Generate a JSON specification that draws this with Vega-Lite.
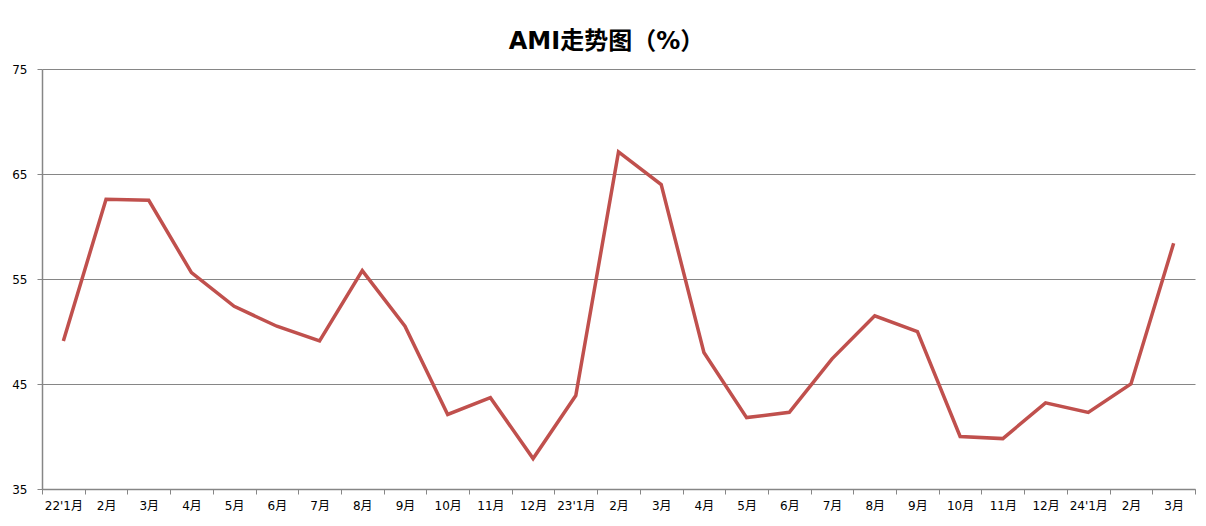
{
  "$schema": "https://vega.github.io/schema/vega-lite/v6.json",
  "width": 1153,
  "height": 420,
  "autosize": {"type": "none"},
  "padding": {"left": 42, "top": 69, "right": 11, "bottom": 37},
  "background": "white",
  "title": {
    "text": "AMI走势图（%）",
    "font": "DejaVu Sans, Noto Sans CJK SC",
    "fontSize": 24,
    "fontWeight": "bold",
    "color": "#000000",
    "anchor": "middle",
    "dx": -12,
    "offset": 9
  },
  "config": {
    "view": {"stroke": null},
    "font": "DejaVu Sans, Noto Sans CJK SC"
  },
  "data": {
    "values": [
      {"m": "22'1月", "v": 49.1},
      {"m": "22'2月", "v": 62.6},
      {"m": "22'3月", "v": 62.5},
      {"m": "22'4月", "v": 55.6},
      {"m": "22'5月", "v": 52.4},
      {"m": "22'6月", "v": 50.5},
      {"m": "22'7月", "v": 49.1},
      {"m": "22'8月", "v": 55.8},
      {"m": "22'9月", "v": 50.5},
      {"m": "22'10月", "v": 42.1},
      {"m": "22'11月", "v": 43.7},
      {"m": "22'12月", "v": 37.9},
      {"m": "23'1月", "v": 43.9},
      {"m": "23'2月", "v": 67.1},
      {"m": "23'3月", "v": 64.0},
      {"m": "23'4月", "v": 48.0},
      {"m": "23'5月", "v": 41.8},
      {"m": "23'6月", "v": 42.3},
      {"m": "23'7月", "v": 47.4},
      {"m": "23'8月", "v": 51.5},
      {"m": "23'9月", "v": 50.0},
      {"m": "23'10月", "v": 40.0},
      {"m": "23'11月", "v": 39.8},
      {"m": "23'12月", "v": 43.2},
      {"m": "24'1月", "v": 42.3},
      {"m": "24'2月", "v": 45.0},
      {"m": "24'3月", "v": 58.4}
    ]
  },
  "mark": {"type": "line", "color": "#c0504d", "strokeWidth": 3.5, "strokeJoin": "miter"},
  "encoding": {
    "x": {
      "field": "m",
      "type": "ordinal",
      "sort": null,
      "title": null,
      "scale": {"type": "band", "paddingInner": 0, "paddingOuter": 0},
      "axis": {
        "labelAngle": 0,
        "labelExpr": "split(datum.value, \"'\")[1] == '1月' ? datum.value : split(datum.value, \"'\")[1]",
        "labelFontSize": 12,
        "labelColor": "#000000",
        "labelPadding": 6,
        "bandPosition": 0,
        "tickBand": "extent",
        "ticks": true,
        "tickSize": 5,
        "tickColor": "#868686",
        "domainColor": "#868686",
        "domainWidth": 1.5,
        "grid": false
      }
    },
    "y": {
      "field": "v",
      "type": "quantitative",
      "title": null,
      "scale": {"domain": [35, 75], "nice": false, "zero": false},
      "axis": {
        "values": [35, 45, 55, 65, 75],
        "labelFontSize": 12,
        "labelColor": "#000000",
        "labelPadding": 10,
        "tickSize": 5,
        "tickColor": "#868686",
        "domainColor": "#868686",
        "domainWidth": 1.5,
        "grid": true,
        "gridColor": "#868686",
        "gridWidth": 1.2
      }
    }
  }
}
